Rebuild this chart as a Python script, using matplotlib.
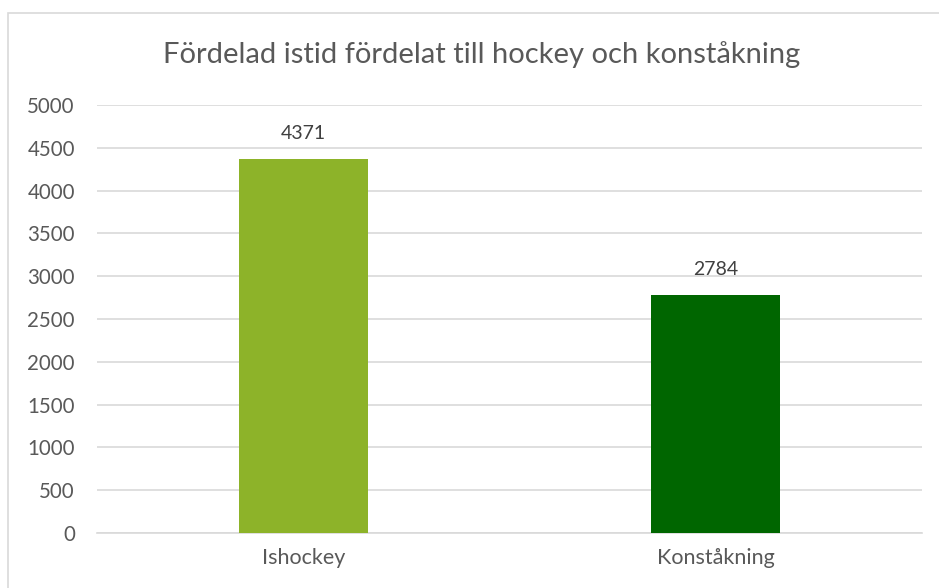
import matplotlib.pyplot as plt
from matplotlib.patches import Rectangle

categories = ["Ishockey", "Konståkning"]
values = [4371, 2784]
colors = ["#8DB329", "#006600"]
yticks = [0, 500, 1000, 1500, 2000, 2500, 3000, 3500, 4000, 4500, 5000]

plt.rcParams['font.family'] = ['Lato', 'DejaVu Sans']
txt = "#595959"

fig = plt.figure(figsize=(9.39, 5.88), dpi=100)
# chart border (cropped at right/bottom like the reference)
fig.patches.append(Rectangle((8/939, -0.1), 1.2, 1 - 13/588 + 0.1, transform=fig.transFigure,
                             fill=False, edgecolor="#D9D9D9", lw=1.2))

ax = fig.add_axes([97/939, 1 - 533/588, (922 - 97)/939, (533 - 105)/588])
x = range(len(categories))
bars = ax.bar(x, values, width=0.313, color=colors, zorder=3)
for b, v in zip(bars, values):
    ax.text(b.get_x() + b.get_width()/2, v + 300, str(v), ha="center", va="center",
            fontsize=14, color="#404040")

ax.set_xlim(-0.5, 1.5)
ax.set_ylim(0, 5000)
ax.set_yticks(yticks)
ax.set_xticks(list(x))
ax.set_xticklabels(categories, fontsize=15.5)
ax.tick_params(length=0, colors=txt)
ax.tick_params(axis="y", pad=16, labelsize=14.8)
ax.tick_params(axis="x", pad=11)
ax.grid(axis="y", color="#D9D9D9", lw=1.2, zorder=0)
for s in ["top", "right", "left"]:
    ax.spines[s].set_visible(False)
ax.spines["bottom"].set_color("#D9D9D9")
ax.spines["bottom"].set_linewidth(1.2)

fig.text(482/939, 1 - 55/588, "Fördelad istid fördelat till hockey och konståkning",
         ha="center", va="center", fontsize=21, color=txt)

fig.savefig("out.png", dpi=100)
